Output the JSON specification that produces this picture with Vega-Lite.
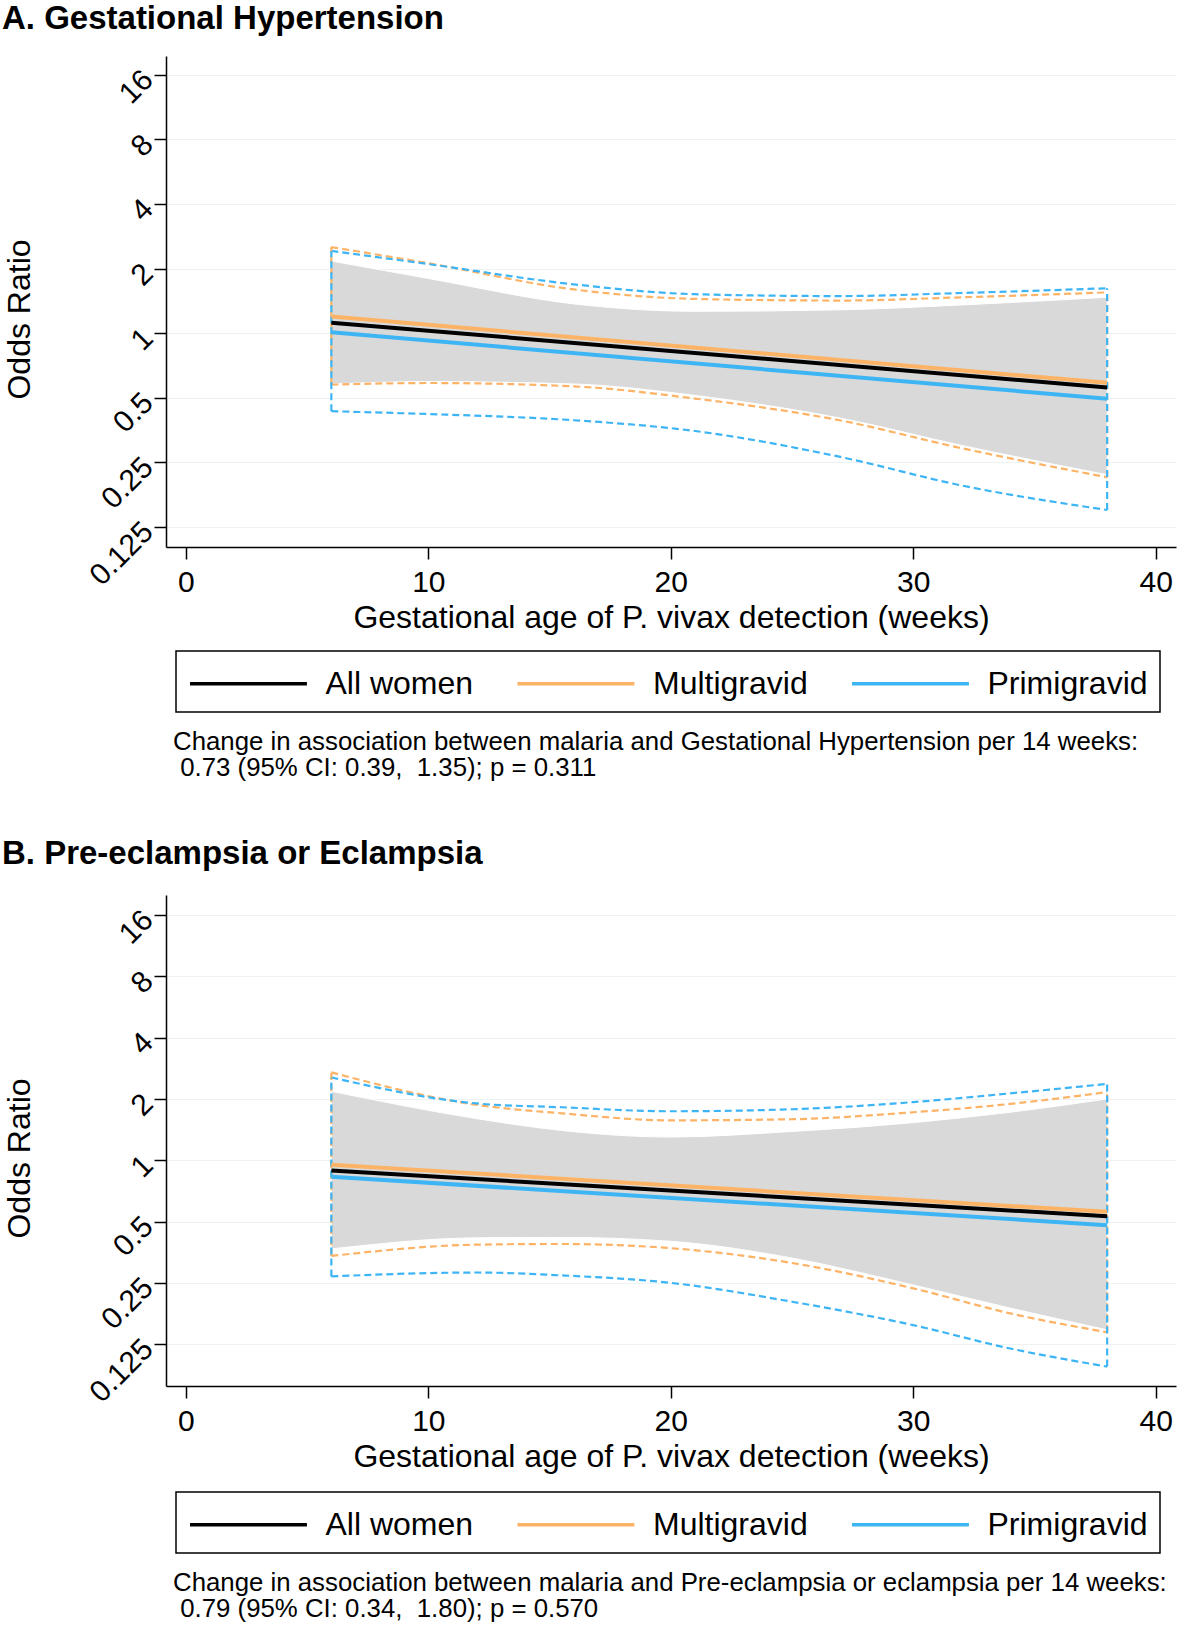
{
  "$schema": "https://vega.github.io/schema/vega-lite/v6.json",
  "padding": {"left": 2, "top": 3, "right": 4, "bottom": 0},
  "background": "white",
  "config": {
    "font": "Liberation Sans",
    "view": {"stroke": null},
    "axis": {"domainColor": "black", "domainWidth": 1.5, "tickColor": "black", "tickWidth": 1.5, "tickSize": 12, "labelColor": "black", "titleColor": "black", "labelFont": "Liberation Sans", "titleFont": "Liberation Sans", "titleFontWeight": "normal", "titleFontSize": 32, "labelFlush": false, "labelOverlap": false},
    "axisX": {"grid": false, "labelFontSize": 30, "labelPadding": 8, "titlePadding": 5},
    "axisY": {"grid": true, "gridColor": "#EDF3F3", "gridWidth": 1.2, "labelFontSize": 30, "labelAngle": -45, "labelAlign": "right", "labelBaseline": "middle", "labelPadding": 6, "titleX": -137, "titleY": 263, "titleBaseline": "alphabetic"},
    "legend": {"padding": 12, "strokeColor": "black", "strokeWidth": 1.5, "labelFontSize": 32, "labelFont": "Liberation Sans", "labelColor": "black", "labelLimit": 400, "symbolType": "M-1,0H5.32", "symbolSize": 1369, "symbolStrokeWidth": 3.5, "labelOffset": 96.5, "columnPadding": 36.5, "symbolOffset": 0},
    "title": {"font": "Liberation Sans", "color": "black"}
  },
  "datasets": {
    "bandA": [
      {"series": "All women", "week": 6, "lo": 0.58, "hi": 2.17},
      {"series": "All women", "week": 10, "lo": 0.595, "hi": 1.8},
      {"series": "All women", "week": 16, "lo": 0.58, "hi": 1.37},
      {"series": "All women", "week": 21, "lo": 0.513, "hi": 1.265},
      {"series": "All women", "week": 27, "lo": 0.402, "hi": 1.285},
      {"series": "All women", "week": 32, "lo": 0.3, "hi": 1.355},
      {"series": "All women", "week": 38, "lo": 0.219, "hi": 1.47},
      {"series": "Multigravid", "week": 6, "lo": 0.576, "hi": 2.52},
      {"series": "Multigravid", "week": 10, "lo": 0.586, "hi": 2.12},
      {"series": "Multigravid", "week": 16, "lo": 0.565, "hi": 1.6},
      {"series": "Multigravid", "week": 21, "lo": 0.496, "hi": 1.445},
      {"series": "Multigravid", "week": 27, "lo": 0.392, "hi": 1.42},
      {"series": "Multigravid", "week": 32, "lo": 0.291, "hi": 1.47},
      {"series": "Multigravid", "week": 38, "lo": 0.213, "hi": 1.55},
      {"series": "Primigravid", "week": 6, "lo": 0.433, "hi": 2.42},
      {"series": "Primigravid", "week": 10, "lo": 0.42, "hi": 2.1},
      {"series": "Primigravid", "week": 16, "lo": 0.393, "hi": 1.69},
      {"series": "Primigravid", "week": 21, "lo": 0.35, "hi": 1.52},
      {"series": "Primigravid", "week": 27, "lo": 0.265, "hi": 1.49},
      {"series": "Primigravid", "week": 32, "lo": 0.195, "hi": 1.54},
      {"series": "Primigravid", "week": 38, "lo": 0.15, "hi": 1.62}
    ],
    "fitA": [
      {"series": "All women", "week": 6, "or": 1.12},
      {"series": "All women", "week": 38, "or": 0.559},
      {"series": "Multigravid", "week": 6, "or": 1.196},
      {"series": "Multigravid", "week": 38, "or": 0.587},
      {"series": "Primigravid", "week": 6, "or": 1.01},
      {"series": "Primigravid", "week": 38, "or": 0.495}
    ],
    "bandB": [
      {"series": "All women", "week": 6, "lo": 0.367, "hi": 2.18},
      {"series": "All women", "week": 12, "lo": 0.416, "hi": 1.6},
      {"series": "All women", "week": 15.5, "lo": 0.418, "hi": 1.4},
      {"series": "All women", "week": 20, "lo": 0.4, "hi": 1.3},
      {"series": "All women", "week": 25, "lo": 0.331, "hi": 1.385},
      {"series": "All women", "week": 30, "lo": 0.244, "hi": 1.53},
      {"series": "All women", "week": 34, "lo": 0.188, "hi": 1.72},
      {"series": "All women", "week": 38, "lo": 0.147, "hi": 2.0},
      {"series": "Multigravid", "week": 6, "lo": 0.339, "hi": 2.7},
      {"series": "Multigravid", "week": 12, "lo": 0.385, "hi": 1.87},
      {"series": "Multigravid", "week": 15.5, "lo": 0.388, "hi": 1.7},
      {"series": "Multigravid", "week": 20, "lo": 0.37, "hi": 1.57},
      {"series": "Multigravid", "week": 25, "lo": 0.313, "hi": 1.59},
      {"series": "Multigravid", "week": 30, "lo": 0.235, "hi": 1.72},
      {"series": "Multigravid", "week": 34, "lo": 0.177, "hi": 1.89},
      {"series": "Multigravid", "week": 38, "lo": 0.143, "hi": 2.16},
      {"series": "Primigravid", "week": 6, "lo": 0.269, "hi": 2.55},
      {"series": "Primigravid", "week": 12, "lo": 0.281, "hi": 1.9},
      {"series": "Primigravid", "week": 15.5, "lo": 0.272, "hi": 1.82},
      {"series": "Primigravid", "week": 20, "lo": 0.25, "hi": 1.74},
      {"series": "Primigravid", "week": 25, "lo": 0.202, "hi": 1.78},
      {"series": "Primigravid", "week": 30, "lo": 0.155, "hi": 1.93},
      {"series": "Primigravid", "week": 34, "lo": 0.119, "hi": 2.13},
      {"series": "Primigravid", "week": 38, "lo": 0.097, "hi": 2.37}
    ],
    "fitB": [
      {"series": "All women", "week": 6, "or": 0.89},
      {"series": "All women", "week": 38, "or": 0.531},
      {"series": "Multigravid", "week": 6, "or": 0.95},
      {"series": "Multigravid", "week": 38, "or": 0.558},
      {"series": "Primigravid", "week": 6, "or": 0.83},
      {"series": "Primigravid", "week": 38, "or": 0.48}
    ]
  },
  "resolve": {"scale": {"color": "independent", "stroke": "independent"}, "legend": {"color": "independent"}},
  "spacing": 56,
  "vconcat": [
    {
      "title": {"text": ["Change in association between malaria and Gestational Hypertension per 14 weeks:", "\u200b\u00a00.73 (95% CI: 0.39,\u00a0 1.35); p = 0.311"], "orient": "bottom", "anchor": "start", "frame": "bounds", "fontSize": 25.8, "fontWeight": "normal", "lineHeight": 26.5, "dx": 171, "offset": 17, "color": "black"},
      "resolve": {"scale": {"color": "independent", "stroke": "independent"}, "legend": {"color": "independent"}},
      "vconcat": [
        {
          "width": 1010, "height": 491,
          "title": {"text": "A. Gestational Hypertension", "anchor": "start", "frame": "bounds", "fontSize": 33, "fontWeight": "bold", "dx": -1, "offset": 20, "color": "black"},
          "encoding": {
            "x": {"field": "week", "type": "quantitative", "scale": {"domain": [-0.82, 40.84], "nice": false, "zero": false}, "axis": {"values": [0, 10, 20, 30, 40], "title": "Gestational age of P. vivax detection (weeks)"}}
          },
          "layer": [
            {"data": {"name": "bandA"}, "transform": [{"filter": "datum.series == 'All women'"}],
             "mark": {"type": "area", "color": "#D9D9D9", "interpolate": "monotone", "stroke": "white", "strokeWidth": 1},
             "encoding": {"y": {"field": "lo", "type": "quantitative", "scale": {"type": "log", "base": 2, "domain": [0.1008, 19.6], "nice": false, "zero": false}, "axis": {"values": [0.125, 0.25, 0.5, 1, 2, 4, 8, 16], "format": "~g", "title": "Odds Ratio"}}, "y2": {"field": "hi"}}},
            {"data": {"name": "bandA"}, "transform": [{"filter": "datum.series != 'All women'"}],
             "mark": {"type": "line", "strokeDash": [7, 4], "strokeWidth": 2.2, "interpolate": "monotone"},
             "encoding": {"y": {"field": "hi", "type": "quantitative", "scale": {"type": "log", "base": 2, "domain": [0.1008, 19.6], "nice": false, "zero": false}, "axis": {"values": [0.125, 0.25, 0.5, 1, 2, 4, 8, 16], "format": "~g", "title": "Odds Ratio"}},
                          "stroke": {"field": "series", "type": "nominal", "scale": {"domain": ["Multigravid", "Primigravid"], "range": ["#FDB366", "#3DB5F5"]}, "legend": null}}},
            {"data": {"name": "bandA"}, "transform": [{"filter": "datum.series != 'All women'"}],
             "mark": {"type": "line", "strokeDash": [7, 4], "strokeWidth": 2.2, "interpolate": "monotone"},
             "encoding": {"y": {"field": "lo", "type": "quantitative", "scale": {"type": "log", "base": 2, "domain": [0.1008, 19.6], "nice": false, "zero": false}, "axis": {"values": [0.125, 0.25, 0.5, 1, 2, 4, 8, 16], "format": "~g", "title": "Odds Ratio"}},
                          "stroke": {"field": "series", "type": "nominal", "scale": {"domain": ["Multigravid", "Primigravid"], "range": ["#FDB366", "#3DB5F5"]}, "legend": null}}},
            {"data": {"name": "bandA"}, "transform": [{"filter": "datum.series != 'All women' && (datum.week == 6 || datum.week == 38)"}],
             "mark": {"type": "rule", "strokeDash": [7, 4], "strokeWidth": 2.2},
             "encoding": {"y": {"field": "lo", "type": "quantitative", "scale": {"type": "log", "base": 2, "domain": [0.1008, 19.6], "nice": false, "zero": false}, "axis": {"values": [0.125, 0.25, 0.5, 1, 2, 4, 8, 16], "format": "~g", "title": "Odds Ratio"}}, "y2": {"field": "hi"},
                          "stroke": {"field": "series", "type": "nominal", "scale": {"domain": ["Multigravid", "Primigravid"], "range": ["#FDB366", "#3DB5F5"]}, "legend": null}}},
            {"data": {"name": "fitA"},
             "mark": {"type": "line", "strokeWidth": 4},
             "encoding": {"y": {"field": "or", "type": "quantitative", "scale": {"type": "log", "base": 2, "domain": [0.1008, 19.6], "nice": false, "zero": false}, "axis": {"values": [0.125, 0.25, 0.5, 1, 2, 4, 8, 16], "format": "~g", "title": "Odds Ratio"}},
                          "color": {"field": "series", "type": "nominal", "scale": {"domain": ["All women", "Multigravid", "Primigravid"], "range": ["#000000", "#FDB366", "#3DB5F5"]}, "legend": {"orient": "none", "legendX": 10, "legendY": 595, "direction": "horizontal", "columns": 3, "title": null, "symbolStrokeWidth": 3.5}}}}
          ]
        }
      ]
    },
    {
      "title": {"text": ["Change in association between malaria and Pre-eclampsia or eclampsia per 14 weeks:", "\u200b\u00a00.79 (95% CI: 0.34,\u00a0 1.80); p = 0.570"], "orient": "bottom", "anchor": "start", "frame": "bounds", "fontSize": 25.8, "fontWeight": "normal", "lineHeight": 26.5, "dx": 171, "offset": 17, "color": "black"},
      "resolve": {"scale": {"color": "independent", "stroke": "independent"}, "legend": {"color": "independent"}},
      "vconcat": [
        {
          "width": 1010, "height": 491,
          "title": {"text": "B. Pre-eclampsia or Eclampsia", "anchor": "start", "frame": "bounds", "fontSize": 33, "fontWeight": "bold", "dx": -1, "offset": 24, "color": "black"},
          "encoding": {
            "x": {"field": "week", "type": "quantitative", "scale": {"domain": [-0.82, 40.84], "nice": false, "zero": false}, "axis": {"values": [0, 10, 20, 30, 40], "title": "Gestational age of P. vivax detection (weeks)"}}
          },
          "layer": [
            {"data": {"name": "bandB"}, "transform": [{"filter": "datum.series == 'All women'"}],
             "mark": {"type": "area", "color": "#D9D9D9", "interpolate": "monotone", "stroke": "white", "strokeWidth": 1},
             "encoding": {"y": {"field": "lo", "type": "quantitative", "scale": {"type": "log", "base": 2, "domain": [0.0779, 20.06], "nice": false, "zero": false}, "axis": {"values": [0.125, 0.25, 0.5, 1, 2, 4, 8, 16], "format": "~g", "title": "Odds Ratio"}}, "y2": {"field": "hi"}}},
            {"data": {"name": "bandB"}, "transform": [{"filter": "datum.series != 'All women'"}],
             "mark": {"type": "line", "strokeDash": [7, 4], "strokeWidth": 2.2, "interpolate": "monotone"},
             "encoding": {"y": {"field": "hi", "type": "quantitative", "scale": {"type": "log", "base": 2, "domain": [0.0779, 20.06], "nice": false, "zero": false}, "axis": {"values": [0.125, 0.25, 0.5, 1, 2, 4, 8, 16], "format": "~g", "title": "Odds Ratio"}},
                          "stroke": {"field": "series", "type": "nominal", "scale": {"domain": ["Multigravid", "Primigravid"], "range": ["#FDB366", "#3DB5F5"]}, "legend": null}}},
            {"data": {"name": "bandB"}, "transform": [{"filter": "datum.series != 'All women'"}],
             "mark": {"type": "line", "strokeDash": [7, 4], "strokeWidth": 2.2, "interpolate": "monotone"},
             "encoding": {"y": {"field": "lo", "type": "quantitative", "scale": {"type": "log", "base": 2, "domain": [0.0779, 20.06], "nice": false, "zero": false}, "axis": {"values": [0.125, 0.25, 0.5, 1, 2, 4, 8, 16], "format": "~g", "title": "Odds Ratio"}},
                          "stroke": {"field": "series", "type": "nominal", "scale": {"domain": ["Multigravid", "Primigravid"], "range": ["#FDB366", "#3DB5F5"]}, "legend": null}}},
            {"data": {"name": "bandB"}, "transform": [{"filter": "datum.series != 'All women' && (datum.week == 6 || datum.week == 38)"}],
             "mark": {"type": "rule", "strokeDash": [7, 4], "strokeWidth": 2.2},
             "encoding": {"y": {"field": "lo", "type": "quantitative", "scale": {"type": "log", "base": 2, "domain": [0.0779, 20.06], "nice": false, "zero": false}, "axis": {"values": [0.125, 0.25, 0.5, 1, 2, 4, 8, 16], "format": "~g", "title": "Odds Ratio"}}, "y2": {"field": "hi"},
                          "stroke": {"field": "series", "type": "nominal", "scale": {"domain": ["Multigravid", "Primigravid"], "range": ["#FDB366", "#3DB5F5"]}, "legend": null}}},
            {"data": {"name": "fitB"},
             "mark": {"type": "line", "strokeWidth": 4},
             "encoding": {"y": {"field": "or", "type": "quantitative", "scale": {"type": "log", "base": 2, "domain": [0.0779, 20.06], "nice": false, "zero": false}, "axis": {"values": [0.125, 0.25, 0.5, 1, 2, 4, 8, 16], "format": "~g", "title": "Odds Ratio"}},
                          "color": {"field": "series", "type": "nominal", "scale": {"domain": ["All women", "Multigravid", "Primigravid"], "range": ["#000000", "#FDB366", "#3DB5F5"]}, "legend": {"orient": "none", "legendX": 10, "legendY": 597, "direction": "horizontal", "columns": 3, "title": null, "symbolStrokeWidth": 3.5}}}}
          ]
        }
      ]
    }
  ]
}
